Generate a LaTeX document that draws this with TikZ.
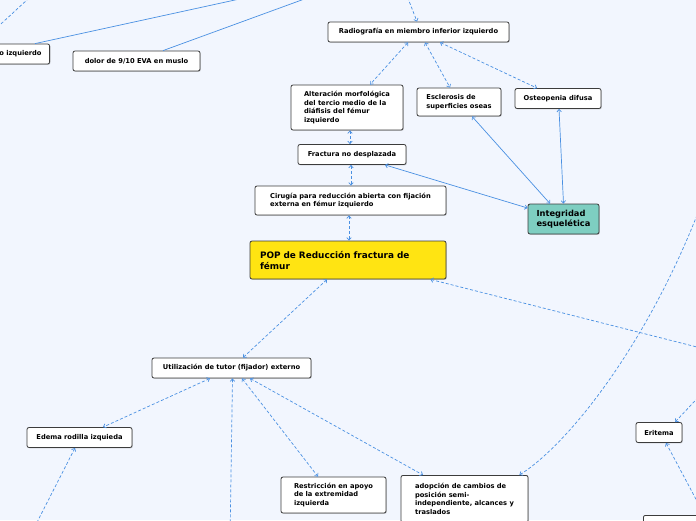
\documentclass[tikz,border=0pt]{standalone}
\usepackage{fontspec}
\setmainfont{DejaVu Sans}
\usetikzlibrary{arrows.meta,shadows}
\definecolor{bgcol}{RGB}{242,246,254}
\definecolor{relcol}{RGB}{74,144,226}
\definecolor{boxline}{RGB}{60,60,60}
\definecolor{popyellow}{RGB}{255,228,18}
\definecolor{integteal}{RGB}{126,206,193}
\begin{document}
\begin{tikzpicture}[x=1pt,y=-1pt,>={Straight Barb[length=2.5pt,width=4.5pt]}] % mapa, 1pt = 1px
\tikzstyle{topic} = [draw=boxline, fill=white, line width=0.8pt, rounded corners=2pt, align=left, inner xsep=8pt, inner ysep=3pt, minimum height=20pt, font=\fontsize{6.7}{8.6}\selectfont\bfseries, drop shadow={shadow xshift=0.8pt, shadow yshift=-0.8pt, opacity=0.35}] % caja normal
\tikzstyle{central} = [topic, fill=popyellow, font=\fontsize{8.9}{11}\selectfont\bfseries] % tema central
\tikzstyle{integ} = [topic, fill=integteal, font=\fontsize{8.3}{10.5}\selectfont\bfseries] % dominio
\tikzstyle{rel} = [relcol, line width=0.7pt, dash pattern=on 3pt off 2pt] % relacion punteada
\tikzstyle{link} = [relcol, line width=0.7pt] % relacion continua
\useasboundingbox (0,0) rectangle (696,520);
\fill[bgcol] (0,0) rectangle (696,520);
\clip (0,0) rectangle (696,520);
% nodos
\node[topic, minimum width=90pt, text width=74pt, align=right, anchor=east] (izq) at (50,54) {o izquierdo};
\node[topic, minimum width=127pt] (dolor) at (136.5,61) {dolor de 9/10 EVA en muslo};
\node[topic, minimum width=181pt] (radio) at (418.5,32) {Radiografía en miembro inferior izquierdo};
\node[topic, minimum width=112pt, minimum height=45pt] (alter) at (347,107.5) {Alteración morfológica\\del tercio medio de la\\diáfisis del fémur\\izquierdo};
\node[topic, minimum width=84pt, minimum height=28pt] (escl) at (459,102) {Esclerosis de\\superficies oseas};
\node[topic, minimum width=86pt] (osteo) at (558,98.5) {Osteopenia difusa};
\node[topic, minimum width=108pt] (fract) at (352,154.5) {Fractura no desplazada};
\node[topic, minimum width=191pt, minimum height=29pt] (ciru) at (350.5,200.5) {Cirugía para reducción abierta con fijación\\externa en fémur izquierdo};
\node[central, minimum width=196pt, minimum height=38pt, text width=176pt] (pop) at (348,260) {POP de Reducción fractura de\\fémur};
\node[integ, minimum width=71pt, minimum height=30pt] (integ) at (563.5,219) {Integridad\\esquelética};
\node[topic, minimum width=159pt] (util) at (231.5,368) {Utilización de tutor (fijador) externo};
\node[topic, minimum width=105pt] (edema) at (79.5,437.5) {Edema rodilla izquieda};
\node[topic, minimum width=105pt, minimum height=36pt] (restr) at (333.5,495) {Restricción en apoyo\\de la extremidad\\izquierda};
\node[topic, minimum width=127pt, minimum height=47pt, anchor=north] (adop) at (464.5,475) {adopción de cambios de\\posición semi-\\independiente, alcances y\\traslados};
\node[topic, minimum width=46pt] (erit) at (659,432.5) {Eritema};
\node[topic, minimum width=122pt, minimum height=20pt, anchor=north west] (signo) at (643,515) {};
% extremos fuera del cuadro
\coordinate (izqend) at (290,-12);
\coordinate (dolorend) at (340,-14);
\coordinate (tla) at (-10,34);
\coordinate (tlb) at (40,-12);
\coordinate (radiotop) at (404,-12);
\coordinate (popend) at (760,363);
\coordinate (curveend) at (715,165);
\coordinate (eritup) at (720,374);
\coordinate (edemadown) at (30,536);
\coordinate (utildown) at (230,540);
% conexiones
\draw[link] ([xshift=-15pt]izq.north east) -- (izqend);
\draw[link] ([xshift=26.5pt]dolor.north) -- (dolorend);
\draw[rel] (tla) -- (tlb);
\draw[rel, ->] (radiotop) -- ([xshift=-1.5pt]radio.north);
\draw[rel, <->] ([xshift=-10.5pt]radio.south) -- ([xshift=23pt]alter.north);
\draw[rel, <->] ([xshift=6.5pt]radio.south) -- ([xshift=-9pt]escl.north);
\draw[rel, <->] ([xshift=21.5pt]radio.south) -- ([xshift=-21pt]osteo.north);
\draw[rel, <->] ([xshift=3pt]alter.south) -- ([xshift=-2pt]fract.north);
\draw[rel, <->] ([xshift=-1pt]fract.south) -- ([xshift=0.5pt]ciru.north);
\draw[rel, <->] ([xshift=-1.5pt]ciru.south) -- ([xshift=1pt]pop.north);
\draw[link, <->] ([xshift=33pt]fract.south) -- (integ.163);
\draw[link, <->] ([xshift=13pt]escl.south) -- ([xshift=-13.5pt]integ.north);
\draw[link, <->] ([xshift=1pt]osteo.south) -- (integ.north);
\draw[rel, <->] ([xshift=-21pt]pop.south) -- ([xshift=11.5pt]util.north);
\draw[rel, <-] ([xshift=-16pt]pop.south east) -- (popend);
\draw[rel, <-] ([xshift=-9pt]adop.north east) .. controls (575,440) and (665,320) .. (curveend);
\draw[rel, <->] ([xshift=-21.5pt]util.south) -- ([xshift=23.5pt]edema.north);
\draw[rel, <-] ([xshift=-4.5pt]edema.south) -- (edemadown);
\draw[rel, <-] ([xshift=1pt]util.south) -- (utildown);
\draw[rel, <->] ([xshift=10.5pt]util.south) -- ([xshift=-15.5pt]restr.north);
\draw[rel, <->] ([xshift=18.5pt]util.south) -- ([xshift=-41.5pt]adop.north);
\draw[rel, <-] ([xshift=16pt]erit.north) -- (eritup);
\draw[rel, <->] ([xshift=7pt]erit.south) -- (signo.north);
\end{tikzpicture}
\end{document}
